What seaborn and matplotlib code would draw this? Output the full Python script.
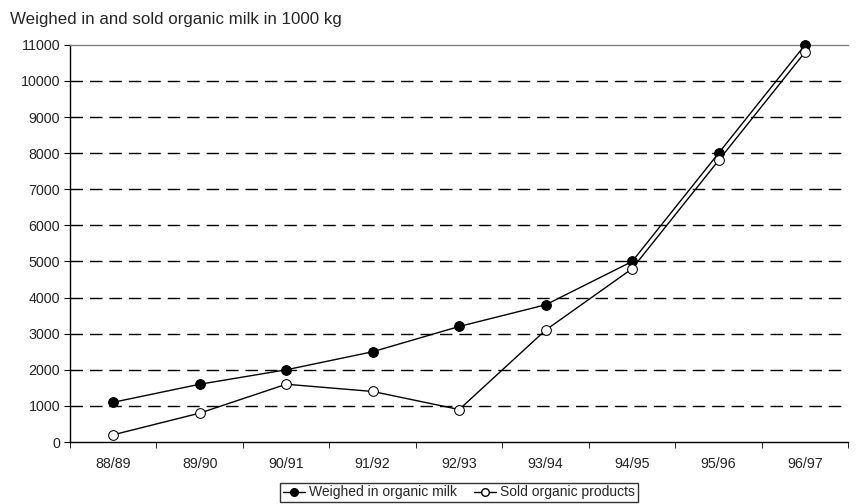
import pandas as pd
import seaborn as sns
from matplotlib import pyplot as plt

# Chart data
seasons = ['88/89', '89/90', '90/91', '91/92', '92/93', '93/94', '94/95', '95/96', '96/97']
weighed_in = [1100, 1600, 2000, 2500, 3200, 3800, 5000, 8000, 11000]
sold = [200, 800, 1600, 1400, 900, 3100, 4800, 7800, 10800]

df = pd.DataFrame({'season': seasons, 'Weighed in organic milk': weighed_in,
                   'Sold organic products': sold})
long_df = df.melt(id_vars='season', var_name='series', value_name='value')

sns.set_style('white')
plt.rcParams['font.family'] = ['Liberation Sans', 'DejaVu Sans']

fig = plt.figure(figsize=(8.61, 5.04), dpi=100)
ax = fig.add_axes([0.0813, 0.123, 0.904, 0.788])

sns.lineplot(data=long_df, x='season', y='value', hue='series', style='series',
             palette=['black', 'black'], markers=['o', 'o'], dashes=False,
             linewidth=1, markersize=7, sort=False, ax=ax, legend=False)

# filled vs open markers
lines = ax.get_lines()
lines[0].set_markerfacecolor('black')
lines[0].set_markeredgecolor('black')
lines[1].set_markerfacecolor('white')
lines[1].set_markeredgecolor('black')
for ln in lines:
    ln.set_clip_on(False)
    ln.set_zorder(5)

ax.set_ylim(0, 11000)
ax.set_xlim(-0.5, len(seasons) - 0.5)
ax.set_yticks(range(0, 11001, 1000))
ax.set_xticks(range(len(seasons)), minor=False)
ax.set_xticklabels(seasons)
ax.set_xticks([i - 0.5 for i in range(len(seasons) + 1)], minor=True)
ax.tick_params(axis='x', which='major', length=0, labelsize=10.3, pad=11)
ax.tick_params(axis='x', which='minor', length=4, direction='out', color='black', bottom=True)
ax.tick_params(axis='y', length=4, direction='out', labelsize=10.3, color='black', left=True, pad=3)

for yv in range(1000, 11000, 1000):
    ax.axhline(yv, color='black', linestyle=(0, (9, 5)), linewidth=1, zorder=0)

ax.spines['right'].set_visible(False)
ax.spines['top'].set_color('gray')
ax.spines['left'].set_color('black')
ax.spines['bottom'].set_color('black')
for s in ['top', 'left', 'bottom']:
    ax.spines[s].set_linewidth(1)

ax.set_xlabel('')
ax.set_ylabel('')

handles = [plt.Line2D([], [], color='black', marker='o', markerfacecolor='black', markersize=5.5, linewidth=1),
           plt.Line2D([], [], color='black', marker='o', markerfacecolor='white', markersize=5.5, linewidth=1)]
fig.legend(handles, ['Weighed in organic milk', 'Sold organic products'], loc='upper center',
           bbox_to_anchor=(0.533, 0.046 + 0.01), ncol=2, frameon=True, fancybox=False,
           edgecolor='black', fontsize=10, handlelength=1.6, handletextpad=0.3,
           columnspacing=1.2, borderpad=0.2)

fig.text(0.012, 0.962, 'Weighed in and sold organic milk in 1000 kg', fontsize=12.2, ha='left', va='center')

fig.savefig('out.png', dpi=100)
